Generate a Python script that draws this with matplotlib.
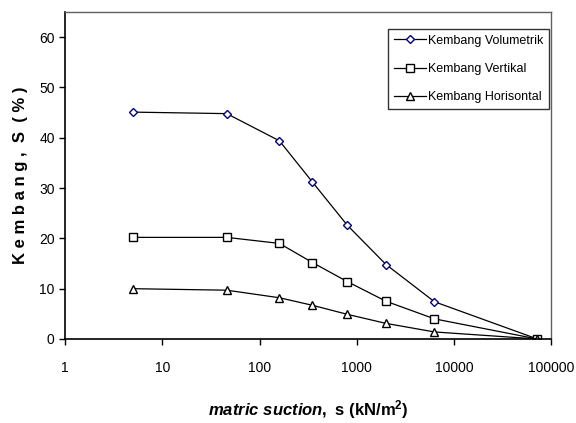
import matplotlib
matplotlib.use("Agg")
import matplotlib.pyplot as plt
from matplotlib.ticker import FixedLocator, FixedFormatter, NullLocator

plt.rcParams['font.family'] = ['Liberation Sans', 'DejaVu Sans']
plt.rcParams['mathtext.fontset'] = 'custom'
plt.rcParams['mathtext.rm'] = 'Liberation Sans:bold'
plt.rcParams['mathtext.bf'] = 'Liberation Sans:bold'
plt.rcParams['mathtext.it'] = 'Liberation Sans:bold:italic'

suction = [5, 46, 160, 350, 800, 2000, 6300, 72000]
volumetrik = [45.1, 44.8, 39.4, 31.2, 22.6, 14.8, 7.4, 0.0]
vertikal = [20.2, 20.2, 19.0, 15.2, 11.4, 7.5, 4.0, 0.0]
horisontal = [10.0, 9.7, 8.2, 6.7, 4.9, 3.1, 1.4, 0.0]
labels = ["Kembang Volumetrik", "Kembang Vertikal", "Kembang Horisontal"]
xticks = [1, 10, 100, 1000, 10000, 100000]
xticklabels = ["1", "10", "100", "1000", "10000", "100000"]
yticks = [0, 10, 20, 30, 40, 50, 60]

fig = plt.figure(figsize=(5.76, 4.23), dpi=100)
ax = fig.add_axes([0.113, 0.1986, 0.844, 0.773])

ax.plot(suction, volumetrik, color='black', lw=0.9, marker='D', ms=4.5,
        mfc='white', mec='#000080', mew=1.0, label=labels[0])
ax.plot(suction, vertikal, color='black', lw=0.9, marker='s', ms=5.2,
        mfc='white', mec='black', mew=1.0, label=labels[1])
ax.plot(suction, horisontal, color='black', lw=0.9, marker='^', ms=5.5,
        mfc='white', mec='black', mew=1.0, label=labels[2])

ax.set_xscale('log')
ax.set_xlim(1, 100000)
ax.set_ylim(0, 65)
ax.xaxis.set_major_locator(FixedLocator(xticks))
ax.xaxis.set_major_formatter(FixedFormatter(xticklabels))
ax.xaxis.set_minor_locator(NullLocator())
ax.set_yticks(yticks)
ax.tick_params(axis='both', labelsize=10, direction='out', length=4, width=1, colors='black')
ax.tick_params(axis='x', pad=12)

for s in ['left', 'bottom']:
    ax.spines[s].set_color('black')
    ax.spines[s].set_linewidth(1.2)
for s in ['top', 'right']:
    ax.spines[s].set_color('#606060')
    ax.spines[s].set_linewidth(1.0)

ax.set_ylabel("K e m b a n g ,  S  ( % )", fontsize=12, fontweight='bold', labelpad=8)
fig.text(0.535, 0.031, r"$\mathit{matric\ suction}\mathrm{,\ s\ (kN/m^2)}$",
         ha='center', va='center', fontsize=12)

leg = ax.legend(loc='upper left', bbox_to_anchor=(0.665, 0.948), borderaxespad=0,
                fontsize=9, frameon=True, fancybox=False, edgecolor='black',
                handlelength=2.6, labelspacing=1.3, handletextpad=0.15, borderpad=0.45)
leg.get_frame().set_linewidth(1.0)

fig.savefig("out.png", dpi=100)
